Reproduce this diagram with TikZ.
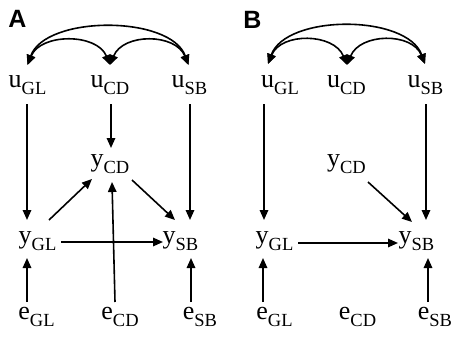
\documentclass[tikz,border=0pt]{standalone}
\usepackage{fontspec}
\setmainfont{Liberation Serif}
\newfontfamily\helv{Liberation Sans}
\usetikzlibrary{arrows.meta,calc}
\newcommand\sbx[1]{\raisebox{-7.5pt}{\fontsize{18.5}{20}\selectfont #1}}
\begin{document}
\begin{tikzpicture}[x=1pt,y=-1pt,
  lab/.style={inner sep=0pt, outer sep=0pt, anchor=base, font=\fontsize{26}{30}\selectfont},
  arr/.style={line width=1.6pt, -{Triangle[length=10pt,width=8.5pt]}},
  darr/.style={line width=1.6pt, {Triangle[length=10pt,width=8.5pt]}-{Triangle[length=10pt,width=8.5pt]}},
  panel/.style={font=\helv\bfseries\fontsize{25}{28}\selectfont, inner sep=0pt}]
\useasboundingbox (0,0) rectangle (453,340);

% ---------- Panel A ----------
\node[panel] (A) at (17.5,19) {A};
\node[lab] (AuGL) at (27.5,87) {u\sbx{GL}};
\node[lab] (AuCD) at (110,87) {u\sbx{CD}};
\node[lab] (AuSB) at (189.5,87) {u\sbx{SB}};
\node[lab] (AyCD) at (110,166) {y\sbx{CD}};
\node[lab] (AyGL) at (37.5,243) {y\sbx{GL}};
\node[lab] (AySB) at (180.5,243) {y\sbx{SB}};
\node[lab] (AeGL) at (36.5,319) {e\sbx{GL}};
\node[lab] (AeCD) at (120,319) {e\sbx{CD}};
\node[lab] (AeSB) at (200,319) {e\sbx{SB}};

\draw[darr] ($(AuGL.base)+(0,-22)$) .. controls +(18,-50) and +(-18,-50) .. ($(AuSB.base)+(-1,-22)$);
\draw[darr] ($(AuGL.base)+(0,-22)$) .. controls +(13,-32) and +(-13,-32) .. ($(AuCD.base)+(0,-22)$);
\draw[darr] ($(AuCD.base)+(0,-22)$) .. controls +(13,-32) and +(-13,-32) .. ($(AuSB.base)+(-1,-22)$);

\draw[arr] ($(AuGL.base)+(-0.5,17)$) -- ($(AyGL.base)+(-10.5,-23)$);
\draw[arr] ($(AuCD.base)+(1,17)$) -- ($(AyCD.base)+(1,-18)$);
\draw[arr] ($(AuSB.base)+(0.5,17)$) -- ($(AySB.base)+(9.5,-23)$);
\draw[arr] ($(AyGL.base)+(11.5,-23)$) -- ($(AyCD.base)+(-18,13)$);
\draw[arr] ($(AyCD.base)+(22,14)$) -- ($(AySB.base)+(-5.5,-23)$);
\draw[arr] ($(AyGL.base)+(23.5,-1)$) -- ($(AySB.base)+(-17.5,-1)$);
\draw[arr] ($(AeGL.base)+(-9.5,-17)$) -- ($(AyGL.base)+(-10.5,15)$);
\draw[arr] ($(AeCD.base)+(-5,-17)$) -- ($(AyCD.base)+(2,16)$);
\draw[arr] ($(AeSB.base)+(-9,-17)$) -- ($(AySB.base)+(10.5,15)$);

% ---------- Panel B ----------
\node[panel] (B) at (252.5,20) {B};
\node[lab] (BuGL) at (280,87) {u\sbx{GL}};
\node[lab] (BuCD) at (346.5,87) {u\sbx{CD}};
\node[lab] (BuSB) at (425.5,87) {u\sbx{SB}};
\node[lab] (ByCD) at (346.5,166) {y\sbx{CD}};
\node[lab] (ByGL) at (274.5,243) {y\sbx{GL}};
\node[lab] (BySB) at (416.5,243) {y\sbx{SB}};
\node[lab] (BeGL) at (274.5,319) {e\sbx{GL}};
\node[lab] (BeCD) at (357.5,319) {e\sbx{CD}};
\node[lab] (BeSB) at (435,319) {e\sbx{SB}};

\draw[darr] ($(BuGL.base)+(-12,-23)$) .. controls +(18,-50) and +(-18,-50) .. ($(BuSB.base)+(-0.5,-23)$);
\draw[darr] ($(BuGL.base)+(-12,-23)$) .. controls +(13,-32) and +(-13,-32) .. ($(BuCD.base)+(0.5,-22)$);
\draw[darr] ($(BuCD.base)+(0.5,-22)$) .. controls +(13,-32) and +(-13,-32) .. ($(BuSB.base)+(-0.5,-23)$);

\draw[arr] ($(BuGL.base)+(-16,17)$) -- ($(ByGL.base)+(-10.5,-23)$);
\draw[arr] ($(BuSB.base)+(0.5,17)$) -- ($(BySB.base)+(9.5,-23)$);
\draw[arr] ($(ByCD.base)+(21.5,16)$) -- ($(BySB.base)+(-4.5,-21)$);
\draw[arr] ($(ByGL.base)+(23.5,0)$) -- ($(BySB.base)+(-18.5,0)$);
\draw[arr] ($(BeGL.base)+(-11.5,-17)$) -- ($(ByGL.base)+(-11.5,15)$);
\draw[arr] ($(BeSB.base)+(-7,-17)$) -- ($(BySB.base)+(11.5,15)$);
\end{tikzpicture}
\end{document}
